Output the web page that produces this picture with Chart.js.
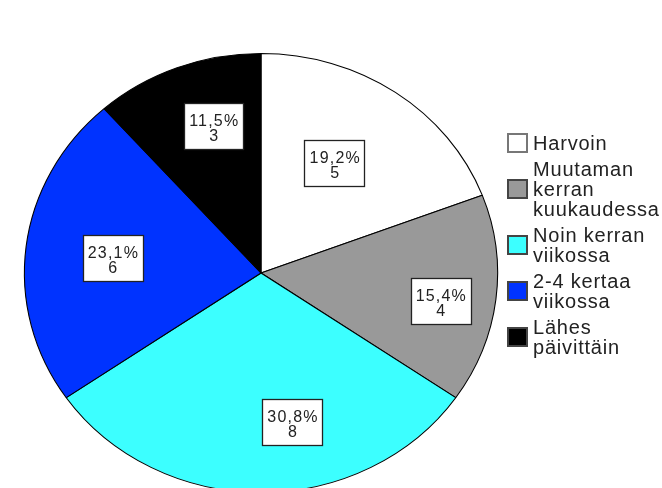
<!DOCTYPE html>
<html>
<head>
<meta charset="utf-8">
<script src="https://cdn.jsdelivr.net/npm/chart.js@4.4.0/dist/chart.umd.min.js"></script>
<style>
html, body { margin: 0; padding: 0; background: #fff; overflow: hidden; }
#wrap { width: 662px; height: 488px; overflow: hidden; }
</style>
</head>
<body>
<div id="wrap"><canvas id="mycanvas" width="662" height="520"></canvas></div>
<script>
// dane
var kategorie = [
	['Harvoin'],
	['Muutaman', 'kerran', 'kuukaudessa'],
	['Noin kerran', 'viikossa'],
	['2-4 kertaa', 'viikossa'],
	['Lähes', 'päivittäin']
];
var liczby = [5, 4, 8, 6, 3];
var kolory = ['#ffffff', '#999999', '#3cffff', '#0033ff', '#000000'];

// gdzie w wycinku stoi etykieta (ulamek kata, ulamek promienia)
var etykietaKat = [0.46, 0.545, 0.40, 0.49, 0.60];
var etykietaPromien = [0.59, 0.77, 0.69, 0.63, 0.70];

var SX = 1.078; // wykres jest troche rozciagniety w poziomie

var suma = liczby.reduce(function(a, b) { return a + b; }, 0);

var elipsa = {
	id: 'elipsa',
	beforeDatasetsDraw: function(chart) {
		var arc = chart.getDatasetMeta(0).data[0];
		var ctx = chart.ctx;
		ctx.save();
		ctx.translate(arc.x, arc.y);
		ctx.scale(SX, 1);
		ctx.translate(-arc.x, -arc.y);
	},
	afterDatasetsDraw: function(chart) {
		var ctx = chart.ctx;
		ctx.restore();

		var luki = chart.getDatasetMeta(0).data;
		ctx.save();
		ctx.font = '16px "Liberation Sans", Arial, sans-serif';
		ctx.letterSpacing = '1.2px';
		ctx.textAlign = 'center';
		ctx.textBaseline = 'alphabetic';
		luki.forEach(function(arc, i) {
			var a = arc.startAngle + etykietaKat[i] * (arc.endAngle - arc.startAngle);
			var r = arc.outerRadius * etykietaPromien[i];
			var x = arc.x + Math.cos(a) * r * SX;
			var y = arc.y + Math.sin(a) * r;
			var t1 = (liczby[i] / suma * 100).toFixed(1).replace('.', ',') + '%';
			var t2 = String(liczby[i]);
			var w = Math.max(ctx.measureText(t1).width, ctx.measureText(t2).width) + 9;
			var h = 46;
			ctx.fillStyle = '#ffffff';
			ctx.fillRect(Math.round(x - w / 2) + 0.5, Math.round(y - h / 2) + 0.5, Math.round(w), h);
			ctx.strokeStyle = '#222222';
			ctx.lineWidth = 1.3;
			ctx.strokeRect(Math.round(x - w / 2) + 0.5, Math.round(y - h / 2) + 0.5, Math.round(w), h);
			ctx.fillStyle = '#222222';
			ctx.fillText(t1, x + 0.6, y);
			ctx.fillText(t2, x + 0.6, y + 15);
		});
		ctx.restore();
	},
	afterDraw: function(chart) {
		var ctx = chart.ctx;
		ctx.save();
		ctx.font = '20px "Liberation Sans", Arial, sans-serif';
		ctx.letterSpacing = '0.8px';
		ctx.textAlign = 'left';
		ctx.textBaseline = 'middle';
		var x0 = 507;
		var top = 133;
		var lh = 20;
		kategorie.forEach(function(linie, i) {
			var blok = linie.length * lh;
			var cy = top + blok / 2;
			ctx.fillStyle = kolory[i];
			ctx.fillRect(x0, cy - 10, 21, 20);
			ctx.strokeStyle = i === 0 ? '#777777' : '#444444';
			ctx.lineWidth = 2;
			ctx.strokeRect(x0 + 1, cy - 9, 19, 18);
			ctx.fillStyle = '#222222';
			linie.forEach(function(t, j) {
				ctx.fillText(t, x0 + 26, top + lh / 2 + j * lh + 1);
			});
			top += blok + 6;
		});
		ctx.restore();
	}
};

var ctx = document.getElementById('mycanvas');

var wykres = new Chart(ctx, {
	type: 'pie',
	data: {
		labels: kategorie,
		datasets: [
			{
				data: liczby,
				backgroundColor: kolory,
				borderColor: '#000000',
				borderWidth: 1
			}
		]
	},
	options: {
		responsive: false,
		animation: false,
		layout: {
			padding: { left: 41, top: 53, right: 181, bottom: 27 }
		},
		plugins: {
			legend: { display: false },
			tooltip: { enabled: false }
		}
	},
	plugins: [elipsa]
});
</script>
</body>
</html>
